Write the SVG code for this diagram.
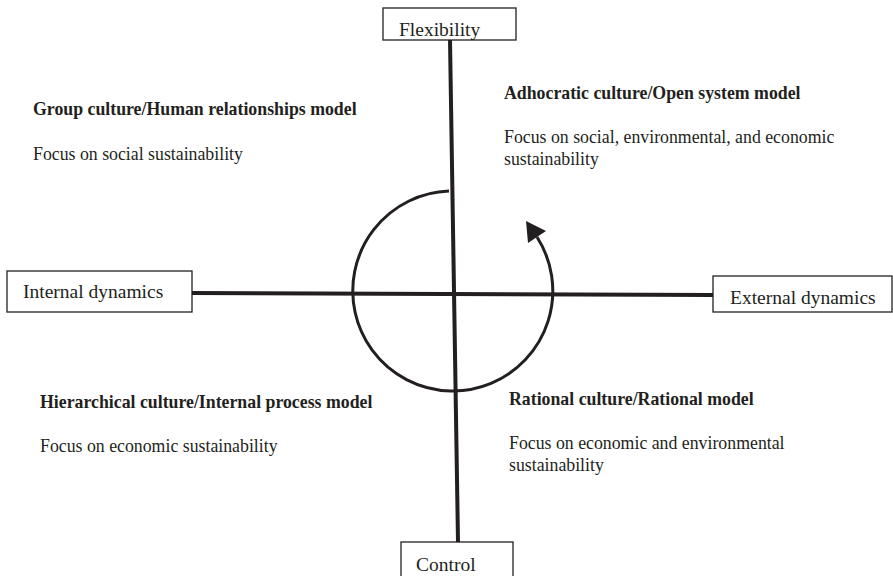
<svg xmlns="http://www.w3.org/2000/svg" width="893" height="576" viewBox="0 0 893 576">
<style>
.bg{fill:#ffffff}
.box{fill:#ffffff;stroke:#231f20;stroke-width:1.3}
.axis{stroke:#231f20;stroke-width:4;fill:none;stroke-linecap:butt}
.cyc{stroke:#231f20;stroke-width:3;fill:none}
.head{fill:#231f20}
.lbl{font-family:"Liberation Serif","Times New Roman",serif;font-size:19.5px;fill:#231f20}
.ttl{font-family:"Liberation Serif","Times New Roman",serif;font-size:17.8px;font-weight:bold;fill:#231f20}
.txt{font-family:"Liberation Serif","Times New Roman",serif;font-size:17.8px;fill:#231f20}
</style>
<rect class="bg" x="0" y="0" width="893" height="576"/>
<g id="connectors">
<line class="axis" x1="450" y1="40" x2="458" y2="542"/>
<line class="axis" x1="192" y1="293" x2="713" y2="295"/>
<path class="cyc" d="M 449 191 A 100 100 0 1 0 537 237"/>
<polygon class="head" points="526,221 528,243 546,231"/>
</g>
<g id="flexibility">
<rect class="box" x="383" y="8" width="133" height="32"/>
<text class="lbl" x="399" y="36">Flexibility</text>
</g>
<g id="internal">
<rect class="box" x="7" y="271" width="185" height="41"/>
<text class="lbl" x="23" y="298">Internal dynamics</text>
</g>
<g id="external">
<rect class="box" x="713" y="276" width="179" height="36"/>
<text class="lbl" x="730" y="304">External dynamics</text>
</g>
<g id="control">
<rect class="box" x="401" y="542" width="112" height="40"/>
<text class="lbl" x="416" y="571">Control</text>
</g>
<g id="group-culture">
<text class="ttl" x="33" y="115">Group culture/Human relationships model</text>
<text class="txt" x="33" y="160">Focus on social sustainability</text>
</g>
<g id="adhocratic-culture">
<text class="ttl" x="504" y="99">Adhocratic culture/Open system model</text>
<text class="txt" x="504" y="143">Focus on social, environmental, and economic</text>
<text class="txt" x="504" y="165">sustainability</text>
</g>
<g id="hierarchical-culture">
<text class="ttl" x="40" y="408">Hierarchical culture/Internal process model</text>
<text class="txt" x="40" y="452">Focus on economic sustainability</text>
</g>
<g id="rational-culture">
<text class="ttl" x="509" y="405">Rational culture/Rational model</text>
<text class="txt" x="509" y="449">Focus on economic and environmental</text>
<text class="txt" x="509" y="471">sustainability</text>
</g>
</svg>
